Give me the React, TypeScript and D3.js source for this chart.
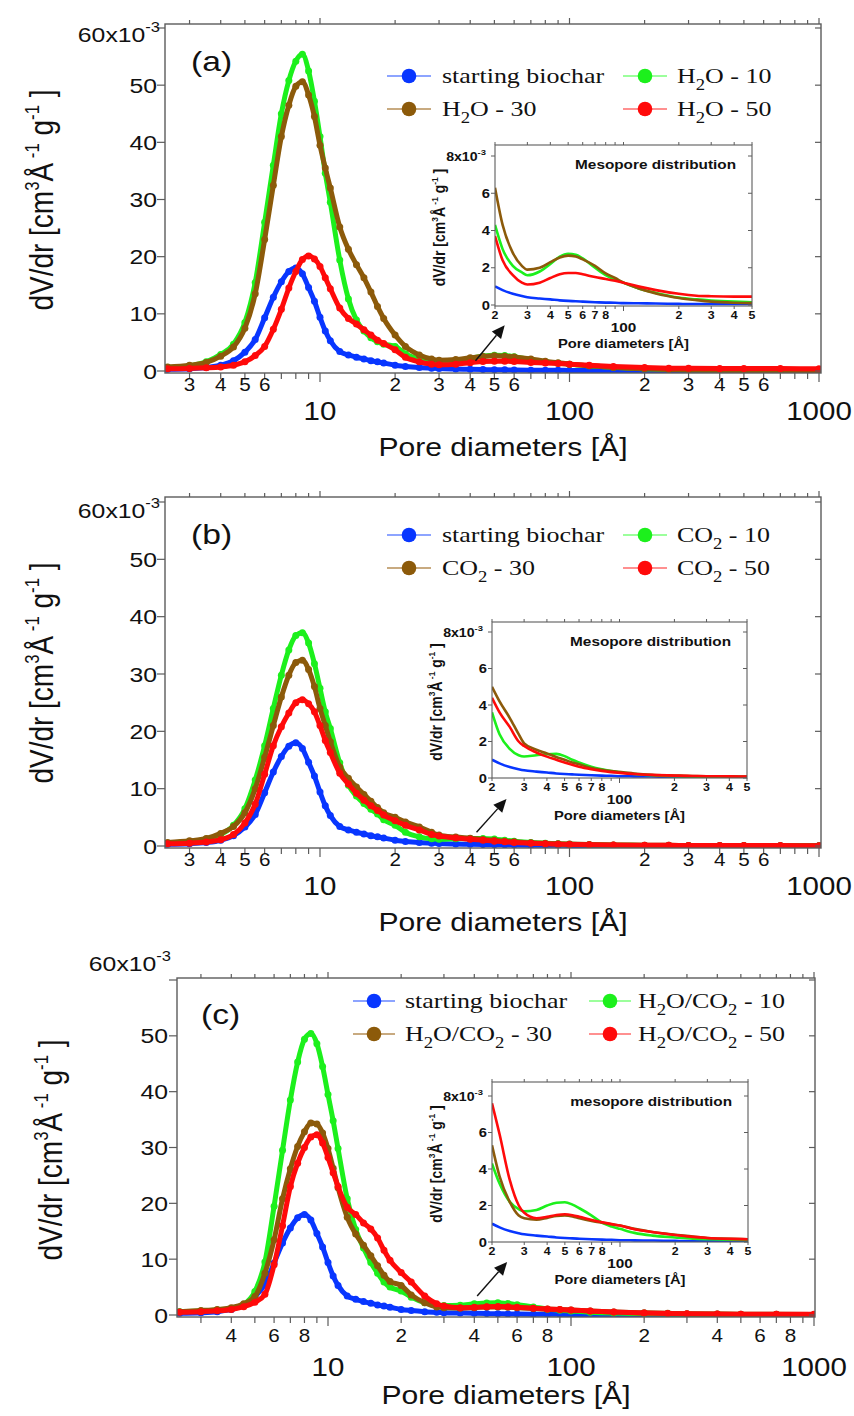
import React from "react";
import * as d3 from "d3";

// ---------- DATA ----------
const poreDiameters = [2.45, 3, 3.5, 4, 4.5, 5, 5.5, 6, 6.5, 7, 7.5, 8, 8.5, 9, 9.5, 10, 10.5, 11, 12, 13, 14, 15, 16, 17, 18, 20, 22, 25, 28, 30, 35, 40, 45, 50, 55, 60, 70, 80, 90, 100, 120, 150, 200, 250, 300, 400, 500, 700, 1000];

const biocharValues = [0.3, 0.4, 0.6, 1.0, 1.8, 3.3, 5.5, 9.3, 12.9, 15.6, 17.4, 18.0, 17.0, 14.6, 12.2, 9.4, 7.0, 5.3, 3.4, 2.8, 2.4, 2.1, 1.8, 1.6, 1.4, 1.0, 0.8, 0.6, 0.48, 0.42, 0.35, 0.3, 0.25, 0.22, 0.2, 0.18, 0.15, 0.13, 0.12, 0.1, 0.09, 0.08, 0.06, 0.05, 0.05, 0.05, 0.05, 0.04, 0.03];

const h2o10Values = [0.6, 0.9, 1.6, 2.9, 4.7, 8.5, 15.5, 26, 36, 45, 50.8, 54.2, 55.4, 52.5, 47.2, 41, 34.6, 29.5, 19.4, 12.6, 8.9, 7.0, 5.8, 5.1, 4.7, 4.3, 3.0, 2.1, 1.75, 1.6, 1.8, 2.2, 2.6, 2.75, 2.7, 2.5, 2.0, 1.6, 1.35, 1.2, 0.9, 0.65, 0.4, 0.3, 0.24, 0.18, 0.15, 0.12, 0.1];
const h2o30Values = [0.7, 1.0, 1.5, 2.6, 4.2, 7.5, 13.5, 23, 32.5, 41, 46.5, 49.8, 50.6, 48.3, 44.5, 39.5, 35.5, 32, 25.2, 21.3, 18.6, 16.3, 13.8, 11.3, 9.2, 6.3, 4.3, 2.8, 2.1, 1.9, 2.0, 2.3, 2.55, 2.65, 2.6, 2.45, 2.1, 1.7, 1.45, 1.2, 0.9, 0.62, 0.38, 0.26, 0.18, 0.12, 0.1, 0.08, 0.06];
const h2o50Values = [0.4, 0.45, 0.55, 0.7, 1.0, 1.6, 2.7, 4.3, 7.3, 10.8, 14.5, 17.4, 19.5, 20.1, 19.6, 18.3, 16.3, 14.4, 11.0, 9.2, 8.2, 7.2, 6.3, 5.4, 4.8, 3.7, 2.4, 1.6, 1.2, 1.1, 1.2, 1.45, 1.65, 1.72, 1.72, 1.65, 1.5, 1.4, 1.3, 1.2, 1.0, 0.8, 0.6, 0.5, 0.47, 0.45, 0.45, 0.42, 0.4];

const co2_10Values = [0.5, 0.8, 1.2, 2.0, 3.6, 6.5, 11.5, 17.5, 24, 29.8, 34.2, 36.7, 37.2, 35.4, 31.8, 27.5, 23.4, 20.5, 14.5, 10.6, 8.7, 7.4, 6.4, 5.6, 4.6, 3.6, 2.4, 1.6, 1.25, 1.18, 1.25, 1.3, 1.32, 1.2, 1.0, 0.85, 0.62, 0.48, 0.38, 0.32, 0.22, 0.15, 0.1, 0.08, 0.07, 0.06, 0.05, 0.04, 0.03];
const co2_30Values = [0.6, 0.9, 1.3, 2.2, 3.4, 5.8, 10, 15.5, 21, 26, 29.8, 32, 32.4, 30.8, 27.8, 24, 21, 18.2, 13.8, 11.8, 10.3, 9.0, 7.8, 6.7, 5.8, 5.0, 4.2, 3.3, 2.4, 1.9, 1.55, 1.35, 1.15, 1.0, 0.85, 0.75, 0.55, 0.45, 0.38, 0.33, 0.25, 0.18, 0.14, 0.11, 0.1, 0.09, 0.08, 0.06, 0.05];
const co2_50Values = [0.4, 0.5, 0.7, 1.1, 2.0, 4.0, 7.3, 12.5, 17.5, 20.8, 23.2, 25, 25.5, 24.8, 23.4, 21, 18.4, 16.3, 12.7, 10.8, 9.2, 8.0, 7.0, 6.2, 5.4, 4.4, 3.6, 2.8, 2.0, 1.75, 1.4, 1.17, 1.0, 0.85, 0.72, 0.62, 0.48, 0.38, 0.32, 0.28, 0.22, 0.17, 0.13, 0.11, 0.1, 0.09, 0.08, 0.07, 0.06];

const mix10Values = [0.6, 0.7, 0.9, 1.1, 1.9, 4.2, 9.5, 19.5, 29.5, 38.5, 45.3, 49.4, 50.4, 48.6, 44.5, 39.5, 34.8, 29.8, 20.8, 15.3, 12.0, 9.4, 7.5, 5.9, 5.0, 4.3, 3.2, 2.2, 1.8, 1.68, 1.75, 2.0, 2.15, 2.18, 2.05, 1.85, 1.45, 1.05, 0.85, 0.72, 0.5, 0.35, 0.25, 0.18, 0.15, 0.12, 0.1, 0.08, 0.06];
const mix30Values = [0.6, 0.8, 1.0, 1.3, 2.0, 3.3, 7.5, 13.5, 20.8, 26.2, 30.2, 32.8, 34.4, 34.2, 32.6, 29.8, 26.3, 22.8, 17.5, 14.5, 12.5, 10.6, 8.8, 7.1, 6.0, 5.3, 3.6, 2.2, 1.45, 1.3, 1.22, 1.32, 1.43, 1.45, 1.4, 1.3, 1.15, 1.05, 0.97, 0.9, 0.72, 0.55, 0.4, 0.3, 0.22, 0.18, 0.15, 0.12, 0.1];
const mix50Values = [0.5, 0.6, 0.75, 1.0, 1.5, 2.3, 3.7, 9.0, 16, 23, 27.2, 30, 31.9, 32.3, 30.8, 28.2, 25.5, 23, 19.3, 18.0, 16.5, 15.4, 13.8, 11.6, 9.8, 7.6, 5.9, 3.4, 2.0, 1.6, 1.3, 1.38, 1.48, 1.52, 1.47, 1.38, 1.2, 1.08, 0.98, 0.9, 0.7, 0.55, 0.38, 0.28, 0.22, 0.17, 0.15, 0.13, 0.12];

const legendNamesA = ["starting biochar", "H2O - 10", "H2O - 30", "H2O - 50"];
const legendNamesB = ["starting biochar", "CO2 - 10", "CO2 - 30", "CO2 - 50"];
const legendNamesC = ["starting biochar", "H2O/CO2 - 10", "H2O/CO2 - 30", "H2O/CO2 - 50"];

const yTickValues = [0, 10, 20, 30, 40, 50];
const majorXLabels = [10, 100, 1000];
const minorXLabelsAB = [3, 4, 5, 6, 20, 30, 40, 50, 60, 200, 300, 400, 500, 600];
const minorXLabelsC = [4, 6, 8, 20, 40, 60, 80, 200, 400, 600, 800];
const insetYTicks = [0, 2, 4, 6];
const insetXMinorLabels = [20, 30, 40, 50, 60, 70, 80, 200, 300, 400, 500];

// ---------- STYLE / LAYOUT ----------
const SX = 1.18;
const SANS = "'Liberation Sans', Arial, Helvetica, sans-serif";
const SERIF = "'Liberation Serif', 'Times New Roman', serif";
const COLORS = ["#0836ff", "#1cf01c", "#8c5a0a", "#ff0a0a"];
const LEGEND_LINE = ["#8da4ff", "#9cff9c", "#c8aa80", "#ff9090"];
const AXIS = "#5c5c5c";

const layoutA = {
  l: 165, r: 821, t: 24, b: 373, x10: 320, x1000: 819, y0: 371, y60: 28,
  yTickRight: 157, topLabelY: 42, topLabelRight: 160, yTitleX: 53, yTitleY: 200,
  minorLabelY: 391, majorLabelY: 420, xTitleY: 456,
  panelLabelX: 191, panelLabelY: 71,
  legend: { c1: 409, c2: 645, r1: 76, r2: 109, half: 22, off1: 33, off2: 32 },
  inset: { l: 495, t: 145, r: 752, b: 306, y0: 305, y8: 156 },
  arrowFrom: [42, 1.8], arrowTo: [55, 8.0],
};
const layoutB = {
  l: 165, r: 821, t: 497, b: 848, x10: 320, x1000: 819, y0: 846, y60: 502,
  yTickRight: 157, topLabelY: 518, topLabelRight: 160, yTitleX: 53, yTitleY: 673,
  minorLabelY: 866, majorLabelY: 895, xTitleY: 931,
  panelLabelX: 191, panelLabelY: 544,
  legend: { c1: 409, c2: 645, r1: 535, r2: 568, half: 22, off1: 33, off2: 32 },
  inset: { l: 492, t: 622, r: 747, b: 778, y0: 778, y8: 632 },
  arrowFrom: [42.4, 2.4], arrowTo: [55.9, 8.2],
};
const layoutC = {
  l: 177, r: 815, t: 978, b: 1317, x10: 328, x1000: 814, y0: 1315, y60: 980,
  yTickRight: 168, topLabelY: 971, topLabelRight: 171, yTitleX: 62, yTitleY: 1150,
  minorLabelY: 1342, majorLabelY: 1376, xTitleY: 1404,
  panelLabelX: 201, panelLabelY: 1024,
  legend: { c1: 374, c2: 610, r1: 1001, r2: 1034, half: 21, off1: 31, off2: 28 },
  inset: { l: 492, t: 1082, r: 748, b: 1242, y0: 1242, y8: 1096 },
  arrowFrom: [41.1, 3.4], arrowTo: [54.6, 9.5],
};

// ---------- HELPERS ----------
function STxt(props: any) {
  const { x, y, size, family = SANS, weight = "normal", anchor = "start", rotate, fill = "#111", children } = props;
  return (
    <g transform={`translate(${x},${y}) scale(${SX},1)${rotate ? ` rotate(${rotate})` : ""}`}>
      <text x={0} y={0} fontSize={size} fontFamily={family} fontWeight={weight} textAnchor={anchor} fill={fill}>
        {children}
      </text>
    </g>
  );
}

function chem(label: string, size: number) {
  const segs: { t: string; sub: boolean }[] = [];
  let cur = "";
  for (let i = 0; i < label.length; i++) {
    const c = label[i];
    if (c === "2" && i > 0 && /[A-Z]/.test(label[i - 1])) {
      if (cur) segs.push({ t: cur, sub: false });
      segs.push({ t: "2", sub: true });
      cur = "";
    } else cur += c;
  }
  if (cur) segs.push({ t: cur, sub: false });
  const shift = size * 0.3;
  let prevSub = false;
  return segs.map((s, i) => {
    let dy = 0;
    if (s.sub && !prevSub) dy = shift;
    if (!s.sub && prevSub) dy = -shift;
    prevSub = s.sub;
    return (
      <tspan key={i} dy={dy} fontSize={s.sub ? size * 0.72 : size}>
        {s.t}
      </tspan>
    );
  });
}

function YTitle({ x, y, size, weight = "normal" }: any) {
  const sup = size * 0.6;
  const sh = size * 0.42;
  return (
    <STxt x={x} y={y} size={size} anchor="middle" rotate={-90} weight={weight}>
      <tspan>dV/dr [cm</tspan>
      <tspan dy={-sh} fontSize={sup}>3</tspan>
      <tspan dy={sh}>Å</tspan>
      <tspan dy={-sh} fontSize={sup}>{" -1"}</tspan>
      <tspan dy={sh}>{" g"}</tspan>
      <tspan dy={-sh} fontSize={sup}>-1</tspan>
      <tspan dy={sh}>{" ]"}</tspan>
    </STxt>
  );
}

function Panel({ L, series, names, minorLabels, label, insetTitle }: any) {
  const x = d3.scaleLog().domain([10, 1000]).range([L.x10, L.x1000]);
  const xAxis = d3.scaleLog().domain([x.invert(L.l), x.invert(L.r)]).range([L.l, L.r]);
  const y = d3.scaleLinear().domain([0, 60]).range([L.y0, L.y60]);
  const line = d3
    .line<[number, number]>()
    .x((d) => x(d[0]))
    .y((d) => y(d[1]))
    .curve(d3.curveMonotoneX);
  const xTicks = xAxis.ticks().filter((v) => xAxis(v) >= L.l - 0.5 && xAxis(v) <= L.r + 0.5);
  const isMajor = (v: number) => Math.abs(Math.log10(v) - Math.round(Math.log10(v))) < 1e-6;
  const clipId = `clip-${label.replace(/[()]/g, "")}`;
  const insetClip = `${clipId}-inset`;

  const I = L.inset;
  const xi = d3.scaleLog().domain([20, 500]).range([I.l, I.r]);
  const yi = d3.scaleLinear().domain([0, 8]).range([I.y0, I.y8]);
  const lineI = d3
    .line<[number, number]>()
    .x((d) => xi(d[0]))
    .y((d) => yi(d[1]))
    .curve(d3.curveMonotoneX);
  const xiTicks = xi.ticks();

  const pts = series.map((vals: number[]) => poreDiameters.map((d, i) => [d, vals[i]] as [number, number]));
  const ptsI = pts.map((p: [number, number][]) => p.filter((d) => d[0] >= 20 && d[0] <= 500));

  const ax0 = x(L.arrowFrom[0]), ay0 = y(L.arrowFrom[1]);
  const ax1 = x(L.arrowTo[0]), ay1 = y(L.arrowTo[1]);
  const ang = Math.atan2(ay1 - ay0, ax1 - ax0);
  const hl = 13, hw = 6;
  const bx = ax1 - hl * Math.cos(ang), by = ay1 - hl * Math.sin(ang);
  const head = `${ax1},${ay1} ${bx + hw * Math.sin(ang)},${by - hw * Math.cos(ang)} ${bx - hw * Math.sin(ang)},${by + hw * Math.cos(ang)}`;

  const lg = L.legend;
  const legendPos = [
    { mx: lg.c1, y: lg.r1, off: lg.off1 },
    { mx: lg.c2, y: lg.r1, off: lg.off2 },
    { mx: lg.c1, y: lg.r2, off: lg.off1 },
    { mx: lg.c2, y: lg.r2, off: lg.off2 },
  ];

  return (
    <g>
      <defs>
        <clipPath id={clipId}>
          <rect x={L.l} y={L.t} width={L.r - L.l} height={L.b - L.t} />
        </clipPath>
        <clipPath id={insetClip}>
          <rect x={I.l} y={I.t} width={I.r - I.l} height={I.b - I.t} />
        </clipPath>
      </defs>

      <g clipPath={`url(#${clipId})`}>
        {pts.map((p: any, si: number) => (
          <g key={si}>
            <path d={line(p) || ""} fill="none" stroke={COLORS[si]} strokeWidth={5} strokeLinejoin="round" />
            {p.map((d: [number, number], k: number) => (
              <circle key={k} cx={x(d[0])} cy={y(d[1])} r={3.5} fill={COLORS[si]} />
            ))}
          </g>
        ))}
      </g>

      <rect x={L.l} y={L.t} width={L.r - L.l} height={L.b - L.t} fill="none" stroke={AXIS} strokeWidth={1.4} />
      {xTicks.map((v, i) => {
        const px = xAxis(v);
        const len = isMajor(v) ? 9 : 6;
        return (
          <g key={i} stroke={AXIS} strokeWidth={1.2}>
            <line x1={px} x2={px} y1={L.b} y2={L.b + len} />
            <line x1={px} x2={px} y1={L.t} y2={L.t - (isMajor(v) ? 6 : 4)} />
          </g>
        );
      })}
      {[...yTickValues, 60].map((v) => (
        <g key={v} stroke={AXIS} strokeWidth={1.2}>
          <line x1={L.l} x2={L.l - 8} y1={y(v)} y2={y(v)} />
          <line x1={L.r} x2={L.r - 6} y1={y(v)} y2={y(v)} />
        </g>
      ))}

      {yTickValues.map((v) => (
        <STxt key={v} x={L.yTickRight} y={y(v) + 7.5} size={21} anchor="end">
          {String(v)}
        </STxt>
      ))}
      <STxt x={L.topLabelRight} y={L.topLabelY} size={21} anchor="end">
        <tspan>60x10</tspan>
        <tspan dy={-10} fontSize={14}>-3</tspan>
      </STxt>
      <YTitle x={L.yTitleX} y={L.yTitleY} size={28} />

      {minorLabels.map((v: number) => (
        <STxt key={v} x={xAxis(v)} y={L.minorLabelY} size={17.5} anchor="middle">
          {String(v)[0]}
        </STxt>
      ))}
      {majorXLabels.map((v) => (
        <STxt key={v} x={xAxis(v)} y={L.majorLabelY} size={25} anchor="middle">
          {String(v)}
        </STxt>
      ))}
      <STxt x={(L.l + L.r) / 2 + 10} y={L.xTitleY} size={25.5} anchor="middle">
        Pore diameters [Å]
      </STxt>

      <STxt x={L.panelLabelX} y={L.panelLabelY} size={28.5}>
        {label}
      </STxt>

      {legendPos.map((lp, i) => (
        <g key={i}>
          <line x1={lp.mx - lg.half} x2={lp.mx + lg.half} y1={lp.y} y2={lp.y} stroke={LEGEND_LINE[i]} strokeWidth={2} />
          <circle cx={lp.mx} cy={lp.y} r={7.3} fill={COLORS[i]} />
          <STxt x={lp.mx + lp.off} y={lp.y + 7} size={22} family={SERIF}>
            {chem(names[i], 22)}
          </STxt>
        </g>
      ))}

      <line x1={ax0} y1={ay0} x2={bx} y2={by} stroke="#111" strokeWidth={1.4} />
      <polygon points={head} fill="#111" />

      <rect x={I.l} y={I.t} width={I.r - I.l} height={I.b - I.t} fill="#fff" />
      <g clipPath={`url(#${insetClip})`}>
        {ptsI.map((p: any, si: number) => (
          <path key={si} d={lineI(p) || ""} fill="none" stroke={COLORS[si]} strokeWidth={2.6} />
        ))}
      </g>
      <rect x={I.l} y={I.t} width={I.r - I.l} height={I.b - I.t} fill="none" stroke={AXIS} strokeWidth={1.1} />
      {xiTicks.map((v, i) => {
        const px = xi(v);
        return (
          <g key={i} stroke={AXIS} strokeWidth={1}>
            <line x1={px} x2={px} y1={I.b} y2={I.b + (isMajor(v) ? 5 : 3)} />
            <line x1={px} x2={px} y1={I.t} y2={I.t - 3} />
          </g>
        );
      })}
      {[...insetYTicks, 8].map((v) => (
        <g key={v} stroke={AXIS} strokeWidth={1}>
          <line x1={I.l} x2={I.l - 4} y1={yi(v)} y2={yi(v)} />
          <line x1={I.r} x2={I.r - 4} y1={yi(v)} y2={yi(v)} />
        </g>
      ))}
      {insetYTicks.map((v) => (
        <STxt key={v} x={I.l - 5} y={yi(v) + 4.5} size={12.5} weight="bold" anchor="end">
          {String(v)}
        </STxt>
      ))}
      <STxt x={I.l - 9} y={yi(8) + 5} size={12} weight="bold" anchor="end">
        <tspan>8x10</tspan>
        <tspan dy={-6} fontSize={8}>-3</tspan>
      </STxt>
      <YTitle x={I.l - 50} y={(I.t + I.b) / 2 + 2} size={14} weight="bold" />
      {insetXMinorLabels.map((v) => (
        <STxt key={v} x={xi(v)} y={I.b + 13} size={10.5} weight="bold" anchor="middle">
          {String(v)[0]}
        </STxt>
      ))}
      <STxt x={xi(100)} y={I.b + 26} size={13} weight="bold" anchor="middle">
        100
      </STxt>
      <STxt x={xi(100)} y={I.b + 42} size={12.5} weight="bold" anchor="middle">
        Pore diameters [Å]
      </STxt>
      <STxt x={I.r - 16} y={I.t + 24} size={13} weight="bold" anchor="end">
        {insetTitle}
      </STxt>
    </g>
  );
}

export default function App() {
  return (
    <div style={{ position: "absolute", left: 0, top: 0 }}>
      <svg width={854} height={1416} viewBox="0 0 854 1416" style={{ display: "block", background: "#fff" }}>
        <rect x={0} y={0} width={854} height={1416} fill="#fff" />
        <Panel
          L={layoutA}
          series={[biocharValues, h2o10Values, h2o30Values, h2o50Values]}
          names={legendNamesA}
          minorLabels={minorXLabelsAB}
          label="(a)"
          insetTitle="Mesopore distribution"
        />
        <Panel
          L={layoutB}
          series={[biocharValues, co2_10Values, co2_30Values, co2_50Values]}
          names={legendNamesB}
          minorLabels={minorXLabelsAB}
          label="(b)"
          insetTitle="Mesopore distribution"
        />
        <Panel
          L={layoutC}
          series={[biocharValues, mix10Values, mix30Values, mix50Values]}
          names={legendNamesC}
          minorLabels={minorXLabelsC}
          label="(c)"
          insetTitle="mesopore distribution"
        />
      </svg>
    </div>
  );
}
